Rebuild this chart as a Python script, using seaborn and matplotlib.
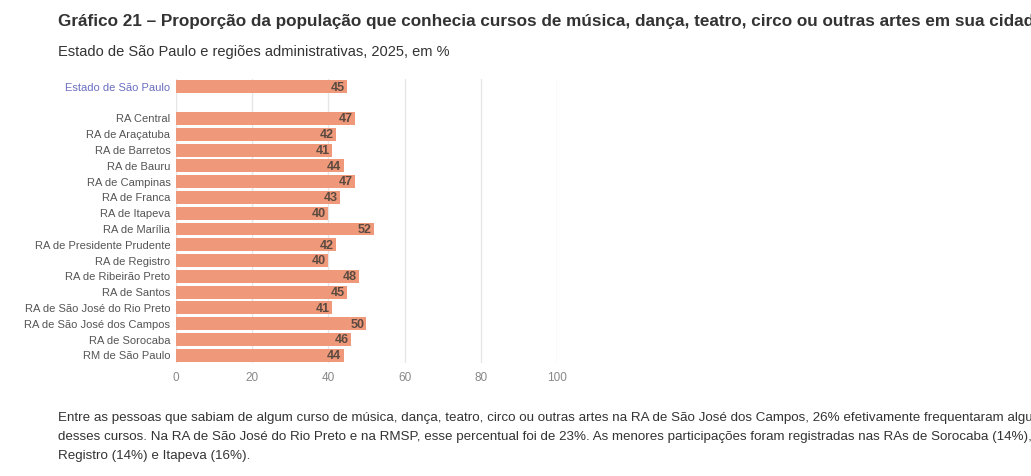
import seaborn as sns
import matplotlib.pyplot as plt
import pandas as pd

regioes = ['Estado de São Paulo', ' ', 'RA Central', 'RA de Araçatuba', 'RA de Barretos', 'RA de Bauru',
           'RA de Campinas', 'RA de Franca', 'RA de Itapeva', 'RA de Marília',
           'RA de Presidente Prudente', 'RA de Registro', 'RA de Ribeirão Preto', 'RA de Santos',
           'RA de São José do Rio Preto', 'RA de São José dos Campos', 'RA de Sorocaba', 'RM de São Paulo']
valores = [45, 0, 47, 42, 41, 44, 47, 43, 40, 52, 42, 40, 48, 45, 41, 50, 46, 44]

df = pd.DataFrame({'regiao': regioes, 'valor': valores})

sns.set_theme(style='white')
plt.rcParams['font.family'] = ['Liberation Sans', 'DejaVu Sans']

fig = plt.figure(figsize=(10.31, 4.76), dpi=100)
ax = fig.add_axes([0.1707, 0.237, 0.3695, 0.597])
sns.barplot(data=df, x='valor', y='regiao', orient='h', color='#f0997a', saturation=1,
            width=0.82, linewidth=0, ax=ax)

for i, v in enumerate(valores):
    if v > 0:
        ax.text(v - 0.6, i + 0.05, str(v), ha='right', va='center', fontsize=9,
                fontweight='bold', color='#5b4a40')

ax.set_xlim(0, 100)
ax.set_xticks([0, 20, 40, 60, 80, 100])
ax.xaxis.grid(True, color='#e6e6e6', linewidth=1)
ax.set_axisbelow(True)
ax.set_xlabel('')
ax.set_ylabel('')
for s in ax.spines.values():
    s.set_visible(False)
ax.tick_params(axis='x', labelsize=8.5, colors='#888888', length=0, pad=6)
ax.tick_params(axis='y', labelsize=8, colors='#555555', length=0, pad=4)
ax.get_yticklabels()[0].set_color('#6a6fc0')

fig.text(0.056, 0.955, 'Gráfico 21 – Proporção da população que conhecia cursos de música, dança, teatro, circo ou outras artes em sua cidade ou região',
         fontsize=12.3, fontweight='bold', color='#333333', va='center')
fig.text(0.056, 0.89, 'Estado de São Paulo e regiões administrativas, 2025, em %',
         fontsize=10.5, color='#333333', va='center')
corpo = ('Entre as pessoas que sabiam de algum curso de música, dança, teatro, circo ou outras artes na RA de São José dos Campos, 26% efetivamente frequentaram algum\n'
         'desses cursos. Na RA de São José do Rio Preto e na RMSP, esse percentual foi de 23%. As menores participações foram registradas nas RAs de Sorocaba (14%),\n'
         'Registro (14%) e Itapeva (16%).')
fig.text(0.056, 0.082, corpo, fontsize=9.6, color='#333333', va='center', linespacing=1.75)

plt.savefig('out.png', dpi=100)
plt.close()
